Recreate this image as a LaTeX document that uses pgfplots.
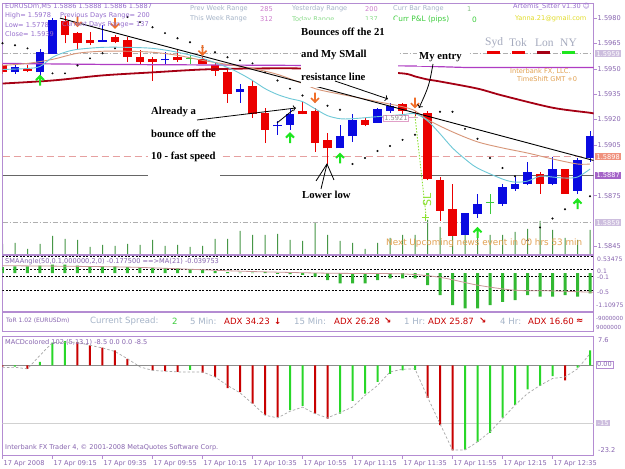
\documentclass[border=0pt]{standalone}
\usepackage{pgfplots}
\pgfplotsset{compat=1.18}
\usepackage{pgfplotstable}
\usepackage{fontspec}
\setmainfont{DejaVu Sans}
\newfontfamily\serifb{Liberation Serif}
\usetikzlibrary{arrows.meta}

\definecolor{cFrame}{RGB}{180,140,210}
\definecolor{cLab}{RGB}{135,100,175}
\definecolor{cHdr}{RGB}{150,110,205}
\definecolor{cBear}{RGB}{235,0,0}
\definecolor{cBull}{RGB}{10,10,225}
\definecolor{cDoji}{RGB}{60,200,60}
\definecolor{cMA}{RGB}{165,0,20}
\definecolor{cPurp}{RGB}{175,60,195}
\definecolor{cTan}{RGB}{215,150,120}
\definecolor{cCyan}{RGB}{110,200,215}
\definecolor{cVol}{RGB}{70,150,70}
\definecolor{cSMA}{RGB}{50,185,50}
\definecolor{cSMAma}{RGB}{200,150,150}
\definecolor{cMG}{RGB}{40,215,40}
\definecolor{cMR}{RGB}{200,0,0}
\definecolor{cGArr}{RGB}{30,230,30}
\definecolor{cOArr}{RGB}{240,110,40}
\definecolor{cPink}{RGB}{230,160,160}
\definecolor{cPinkB}{RGB}{225,160,200}
\definecolor{cGreyL}{RGB}{175,175,175}
\definecolor{cGreyBlue}{RGB}{165,180,200}
\definecolor{cViol}{RGB}{205,125,205}
\definecolor{cOrange}{RGB}{225,160,80}
\definecolor{cYellow}{RGB}{225,220,40}
\definecolor{cSess}{RGB}{165,170,190}
\definecolor{cBoxL}{RGB}{205,190,222}
\definecolor{cBoxS}{RGB}{240,145,125}
\definecolor{cBoxP}{RGB}{165,100,200}
\definecolor{cSL}{RGB}{140,225,50}
\definecolor{cToday}{RGB}{140,220,140}
\definecolor{cPL}{RGB}{60,205,60}

\newcommand\ui{\fontsize{6.6}{7.5}\selectfont}
\newcommand\uis{\fontsize{6.1}{7}\selectfont}
\newcommand\anno{\serifb\bfseries\fontsize{10.7}{12}\selectfont}

\pgfdeclareplotmark{darr}{%
  \pgfsetlinewidth{1.6pt}%
  \pgfpathmoveto{\pgfqpoint{0pt}{5pt}}\pgfpathlineto{\pgfqpoint{0pt}{-4.5pt}}%
  \pgfpathmoveto{\pgfqpoint{-4pt}{-0.5pt}}\pgfpathlineto{\pgfqpoint{0pt}{-4.5pt}}\pgfpathlineto{\pgfqpoint{4pt}{-0.5pt}}%
  \pgfusepathqstroke}
\pgfdeclareplotmark{uarr}{%
  \pgfsetlinewidth{2pt}%
  \pgfpathmoveto{\pgfqpoint{0pt}{-5pt}}\pgfpathlineto{\pgfqpoint{0pt}{4.5pt}}%
  \pgfpathmoveto{\pgfqpoint{-4pt}{0.5pt}}\pgfpathlineto{\pgfqpoint{0pt}{4.5pt}}\pgfpathlineto{\pgfqpoint{4pt}{0.5pt}}%
  \pgfusepathqstroke}

\pgfplotstableread{
i o h l c
0 1.5952 1.5953 1.5947 1.5948
2 1.5950 1.5952 1.5948 1.5949
5 1.5978 1.5981 1.5965 1.5970
6 1.5971 1.5972 1.5962 1.5965
7 1.5967 1.5972 1.5964 1.5965
9 1.5969 1.5970 1.5965 1.5966
10 1.5967 1.5969 1.5954 1.5957
11 1.5957 1.5961 1.5953 1.5954
12 1.5956 1.5957 1.5943 1.5954
14 1.5957 1.5962 1.5954 1.5955
16 1.5956 1.5957 1.5953 1.5953
17 1.5952 1.5954 1.5946 1.5949
18 1.5948 1.5950 1.5930 1.5935
20 1.5940 1.5943 1.5921 1.5923
21 1.5924 1.5927 1.5906 1.5914
24 1.5925 1.5931 1.5923 1.5923
25 1.5925 1.5927 1.5901 1.5906
26 1.5908 1.5912 1.5894 1.5903
29 1.5920 1.5921 1.5916 1.5917
32 1.5929 1.5930 1.5923 1.5925
33 1.5924 1.5925 1.5922 1.5923
34 1.5924 1.5925 1.5884 1.5885
35 1.5884 1.5886 1.5860 1.5866
36 1.5867 1.5882 1.5851 1.5851
43 1.5888 1.5889 1.5876 1.5882
45 1.5891 1.5891 1.5876 1.5876
}\bear

\pgfplotstableread{
i o h l c
1 1.5948 1.5953 1.5947 1.5951
3 1.5948 1.5962 1.5946 1.5960
4 1.5959 1.5980 1.5959 1.5979
8 1.5966 1.5976 1.5966 1.5967
13 1.5955 1.5960 1.5953 1.5956
19 1.5936 1.5941 1.5930 1.5938
22 1.5916 1.5919 1.5911 1.5917
23 1.5917 1.5926 1.5914 1.5923
27 1.5903 1.5917 1.5903 1.5910
28 1.5910 1.5923 1.5907 1.5920
30 1.5918 1.5927 1.5918 1.5926
31 1.5925 1.5930 1.5924 1.5928
37 1.5852 1.5865 1.5852 1.5865
38 1.5864 1.5876 1.5862 1.5870
40 1.5870 1.5882 1.5869 1.5880
41 1.5879 1.5886 1.5878 1.5882
42 1.5882 1.5895 1.5881 1.5889
44 1.5882 1.5898 1.5881 1.5891
46 1.5878 1.5897 1.5876 1.5896
47 1.5897 1.5913 1.5895 1.5910
}\bull

\pgfplotstableread{
i o h l c
15 1.5956 1.5958 1.5953 1.5956
39 1.5871 1.5876 1.5864 1.5871
}\doji

\pgfplotstableread{
i v
0 10
1 11
2 5
3 10
4 18
5 15
6 14
7 7
8 9
9 8
10 10
11 9
12 14
13 8
14 9
15 7
16 8
17 15
18 15
19 23
20 19
21 19
22 20
23 14
24 13
25 31
26 19
27 13
28 11
29 5
30 11
31 16
32 19
33 19
34 34
35 27
36 44
37 31
38 24
39 19
40 19
41 22
42 25
43 33
44 24
45 16
46 14
47 24
}\vol

\pgfplotstableread{
i v
0 0.18
1 0.20
2 0.20
3 0.22
4 0.25
5 0.25
6 0.22
7 0.20
8 0.20
9 0.20
10 0.18
11 0.18
12 0.16
13 0.15
14 0.14
15 0.12
16 0.10
17 0.06
18 0.03
19 0.02
20 0.02
21 0.03
22 -0.02
23 -0.03
24 -0.05
25 -0.10
26 -0.20
27 -0.30
28 -0.30
29 -0.30
30 -0.20
31 -0.15
32 -0.15
33 -0.15
34 -0.35
35 -0.64
36 -0.94
37 -1.03
38 -1.03
39 -0.94
40 -0.84
41 -0.79
42 -0.64
43 -0.69
44 -0.69
45 -0.64
46 -0.69
47 -0.59
}\sma

\pgfplotstableread{
i v
1 -0.3
3 0.9
4 5.9
5 6.3
15 -1.2
23 -11.6
24 -10.5
27 -12.5
28 -9.2
29 -7.3
30 -4.3
31 -2.2
32 -1.3
33 -1.2
37 -21.8
38 -19.8
39 -17.5
40 -13.5
41 -10.2
42 -6.2
43 -5.3
44 -2.8
46 -0.6
47 3.9
}\mgreen

\pgfplotstableread{
i v
0 -0.3
2 -0.9
6 6.0
7 5.2
8 4.6
9 3.9
10 1.7
12 -1.3
13 -1.5
14 -1.7
16 -1.9
17 -3.0
18 -5.9
19 -6.9
20 -9.9
21 -12.9
22 -13.4
25 -12.5
26 -13.8
34 -8.4
35 -15.5
36 -22.0
45 -3.9
}\mred

\pgfplotstableread{
i v
0 -0.6
1 -0.5
2 -0.9
3 2.6
4 5.9
5 6.0
6 6.0
7 5.2
8 4.5
9 3.6
10 1.7
11 -0.4
12 -1.3
13 -1.5
14 -1.7
15 -1.7
16 -1.7
17 -3.0
18 -5.2
19 -7.1
20 -9.9
21 -12.9
22 -13.6
23 -11.9
24 -10.8
25 -12.5
26 -13.6
27 -12.2
28 -10.8
29 -7.8
30 -5.2
31 -1.7
32 -1.0
33 -0.9
34 -8.2
35 -15.1
36 -21.9
37 -21.9
38 -19.8
39 -17.2
40 -13.8
41 -10.3
42 -7.3
43 -5.2
44 -3.4
45 -3.0
46 -0.9
47 3.0
}\sig

\begin{document}
\begin{tikzpicture}
\useasboundingbox (0pt,0pt) rectangle (625pt,469pt);
\fill[white] (0pt,0pt) rectangle (625pt,469pt);

% ---------- volumes (overlay of the price panel)
\begin{axis}[at={(2.5pt,215pt)}, anchor=south west, scale only axis,
  width=591pt, height=251pt, xmin=0, xmax=47.28, ymin=0, ymax=251, hide axis]
\addplot[ybar, bar width=1pt, bar shift=0pt, fill=cVol, draw=none] table[x=i,y=v]{\vol};
\end{axis}

% ---------- price panel
\begin{axis}[at={(2.5pt,215pt)}, anchor=south west, scale only axis,
  width=591pt, height=251pt,
  xmin=0, xmax=47.28, ymin=1.584048, ymax=1.598893,
  axis line style={draw=cFrame, line width=0.8pt},
  xtick=\empty,
  ytick={1.5845,1.5875,1.5905,1.5920,1.5935,1.5950,1.5965,1.5980},
  ytick pos=right, yticklabel pos=right, tick align=outside, major tick length=3pt,
  tick style={draw=cFrame, line width=0.6pt},
  yticklabel style={font=\ui, text=cLab, inner sep=1pt,
    /pgf/number format/.cd, fixed, fixed zerofill, precision=4, assume math mode=true},
  scaled y ticks=false,
  clip mode=individual]
% price levels
\addplot[cGreyL, line width=0.8pt, dash pattern=on 5pt off 2pt on 1pt off 2pt] coordinates {(0,1.5959) (47.28,1.5959)};
\addplot[cGreyL, line width=0.8pt, dash pattern=on 5pt off 2pt on 1pt off 2pt] coordinates {(0,1.5859) (47.28,1.5859)};
\addplot[cPink, line width=0.9pt, dash pattern=on 7pt off 4pt] coordinates {(0,1.5898) (47.28,1.5898)};
\addplot[black!60, line width=0.8pt] coordinates {(0,1.5887) (47.28,1.5887)};
\addplot[cPinkB, line width=0.8pt] coordinates {(30,1.5921) (33.2,1.5921)};
% candles: wicks
\addplot[draw=none, mark=none, forget plot, error bars/.cd, y dir=plus, y explicit, error mark=none,
  error bar style={draw=cBear, line width=1pt, solid}]
  table[x=i, y=l, y error expr=\thisrow{h}-\thisrow{l}] {\bear};
\addplot[draw=none, mark=none, forget plot, error bars/.cd, y dir=plus, y explicit, error mark=none,
  error bar style={draw=cBull, line width=1pt, solid}]
  table[x=i, y=l, y error expr=\thisrow{h}-\thisrow{l}] {\bull};
\addplot[draw=none, mark=none, forget plot, error bars/.cd, y dir=plus, y explicit, error mark=none,
  error bar style={draw=cDoji, line width=1pt, solid}]
  table[x=i, y=l, y error expr=\thisrow{h}-\thisrow{l}] {\doji};
% candles: bodies
\addplot[draw=none, mark=none, forget plot, error bars/.cd, y dir=plus, y explicit, error mark=none,
  error bar style={draw=cBear, line width=8.5pt, solid}]
  table[x=i, y=c, y error expr=\thisrow{o}-\thisrow{c}] {\bear};
\addplot[draw=none, mark=none, forget plot, error bars/.cd, y dir=plus, y explicit, error mark=none,
  error bar style={draw=cBull, line width=8.5pt, solid}]
  table[x=i, y=o, y error expr=\thisrow{c}-\thisrow{o}] {\bull};
\addplot[only marks, mark=-, mark size=4.2pt, mark options={draw=cDoji, line width=1pt}] table[x=i,y=c] {\doji};
% moving averages
\addplot[cMA, line width=1.8pt, smooth, tension=0.5] coordinates {
(0,1.59413) (4,1.59431) (8,1.59461) (12,1.59479) (16,1.59496) (20,1.59502) (24,1.59502)
(28,1.59490) (32,1.59473) (33,1.59455) (34,1.59437) (35,1.59425) (38,1.59383) (40,1.59342)
(44,1.59270) (47,1.59240) (47.28,1.59235)};
\addplot[cPurp, line width=1.2pt] coordinates {
(0,1.59532) (8,1.59526) (24,1.59520) (33,1.59517) (37,1.59508) (47.28,1.59508)};
\addplot[cTan, line width=0.9pt, smooth, tension=0.5] coordinates {
(0,1.59520) (2,1.59532) (4,1.59556) (6,1.59592) (8,1.59604) (10,1.59604) (12,1.59598)
(14,1.59580) (16,1.59550) (18,1.59526) (20,1.59502) (22,1.59467) (24,1.59413) (25,1.59383)
(26,1.59365) (28,1.59336) (30,1.59306) (32,1.59276) (33,1.59252) (34,1.59199) (36,1.59127)
(38,1.59068) (40,1.59032) (42,1.59002) (44,1.58967) (46,1.58937) (47,1.58937)};
\addplot[cCyan, line width=0.9pt, smooth, tension=0.5] coordinates {
(0,1.59496) (2,1.59502) (3,1.59514) (4,1.59568) (5,1.59598) (6,1.59615) (8,1.59627)
(10,1.59627) (12,1.59621) (14,1.59598) (16,1.59562) (18,1.59508) (19,1.59473) (20,1.59431)
(21,1.59383) (22,1.59348) (23,1.59324) (24,1.59306) (25,1.59264) (26,1.59223) (27,1.59205)
(28,1.59205) (30,1.59217) (32,1.59229) (33,1.59235) (34,1.59193) (35,1.59116) (36,1.59032)
(37,1.58967) (38,1.58913) (40,1.58848) (41,1.58830) (42,1.58836) (43,1.58865) (44,1.58860)
(45,1.58854) (46,1.58860) (47,1.58907)};
% trend line
\addplot[black, line width=0.9pt] coordinates {(4.6,1.5980) (47.28,1.58958)};
% stop-loss line
\addplot[cSL, line width=0.9pt, dash pattern=on 1.5pt off 1.5pt] coordinates {(33.0,1.5922) (33.9,1.5862)};
\addplot[only marks, mark=+, mark size=3.5pt, mark options={draw=cSL, line width=1pt}] coordinates {(33.8,1.5862)};
% parabolic SAR dots
\addplot[only marks, mark=*, mark size=0.8pt, mark options={fill=black!75, draw=none}] coordinates {
(0,1.59651) (1,1.59639) (2,1.59621) (4,1.59473) (5,1.59473) (6,1.59520) (7,1.59562) (8,1.59592)
(9,1.59621) (10,1.59806) (11,1.59776) (12,1.59746) (13,1.59711) (14,1.59681) (15,1.59657)
(16,1.59627) (17,1.59598) (18,1.59568) (19,1.59550) (20,1.59532) (21,1.59479) (22,1.59431)
(23,1.59383) (24,1.59342) (25,1.59306) (26,1.59282) (27,1.59258) (28,1.58937) (29,1.58973)
(30,1.59014) (31,1.59044) (32,1.59080) (33,1.59110) (35,1.59246) (36,1.59246) (37,1.59145)
(38,1.59086) (39,1.58973) (40,1.58913) (41,1.58865) (42,1.58485) (43,1.58562) (44,1.58615)
(45,1.58669) (46,1.58710) (47,1.58746)};
% signal arrows
\addplot[only marks, mark=uarr, mark options={draw=cGArr}] coordinates {
(3,1.5943) (23,1.5909) (27,1.5897) (38,1.5853) (46,1.5870)};
\addplot[only marks, mark=darr, mark options={draw=cOArr}] coordinates {
(6,1.5978) (9,1.5977) (16,1.5961) (25,1.5933) (33,1.5930)};
% price boxes
\node[fill=cBoxL, text=white, font=\ui, inner xsep=1.5pt, inner ysep=1pt, anchor=west, xshift=1.5pt] at (axis cs:47.28,1.5959) {1.5959};
\node[fill=cBoxS, text=white, font=\ui, inner xsep=1.5pt, inner ysep=1pt, anchor=west, xshift=1.5pt] at (axis cs:47.28,1.5898) {1.5898};
\node[fill=cBoxP, text=white, font=\ui, inner xsep=1.5pt, inner ysep=1pt, anchor=west, xshift=1.5pt] at (axis cs:47.28,1.5887) {1.5887};
\node[fill=cBoxL, text=white, font=\ui, inner xsep=1.5pt, inner ysep=1pt, anchor=west, xshift=1.5pt] at (axis cs:47.28,1.5859) {1.5859};
\end{axis}

% ---------- SMAAngle panel
\begin{axis}[at={(2.5pt,158pt)}, anchor=south west, scale only axis,
  width=591pt, height=56pt, xmin=0, xmax=47.28, ymin=-1.10975, ymax=0.53475,
  axis line style={draw=cFrame, line width=0.8pt}, xtick=\empty, ytick=\empty,
  clip mode=individual]
\addplot[black, line width=0.7pt, dash pattern=on 2pt off 1.5pt] coordinates {(0,0.5) (47.28,0.5)};
\addplot[black, line width=0.7pt, dash pattern=on 2pt off 1.5pt] coordinates {(0,0.1) (47.28,0.1)};
\addplot[black, line width=0.7pt, dash pattern=on 2pt off 1.5pt] coordinates {(0,-0.1) (47.28,-0.1)};
\addplot[black, line width=0.7pt, dash pattern=on 2pt off 1.5pt] coordinates {(0,-0.5) (47.28,-0.5)};
\addplot[ybar, bar width=3pt, bar shift=0pt, fill=cSMA, draw=none] table[x=i,y=v]{\sma};
\addplot[cSMAma, line width=0.8pt, smooth] coordinates {
(0,0.22) (10,0.18) (19,0.06) (26,0.0) (32,-0.02) (35,-0.12) (38,-0.35) (41,-0.5) (44,-0.52) (47.28,-0.56)};
\end{axis}

% ---------- MACD panel
\begin{axis}[at={(2.5pt,14pt)}, anchor=south west, scale only axis,
  width=591pt, height=119pt, xmin=0, xmax=47.28, ymin=-23.2, ymax=7.6,
  axis line style={draw=cFrame, line width=0.8pt}, ytick=\empty,
  xtick={0,4,8,12,16,20,24,28,32,36,40,44},
  xticklabels={17 Apr 2008,17 Apr 09:15,17 Apr 09:35,17 Apr 09:55,17 Apr 10:15,17 Apr 10:35,17 Apr 10:55,17 Apr 11:15,17 Apr 11:35,17 Apr 11:55,17 Apr 12:15,17 Apr 12:35},
  xtick pos=bottom, tick align=outside, major tick length=4pt,
  tick style={draw=cFrame, line width=0.6pt},
  xticklabel style={font=\ui, text=cLab, anchor=north west, inner xsep=1pt, inner ysep=1pt},
  clip mode=individual]
\addplot[black!45, line width=0.7pt] coordinates {(0,0) (47.28,0)};
\addplot[black!18, line width=1.5pt] coordinates {(0,-15) (47.28,-15)};
\addplot[ybar, bar width=2pt, bar shift=0pt, fill=cMG, draw=none] table[x=i,y=v]{\mgreen};
\addplot[ybar, bar width=2pt, bar shift=0pt, fill=cMR, draw=none] table[x=i,y=v]{\mred};
\addplot[black!35, line width=0.7pt, dash pattern=on 2.5pt off 2pt] table[x=i,y=v]{\sig};
\end{axis}

% ---------- texts and objects (image coordinates)
\begin{scope}[x=1pt, y=1pt, shift={(0pt,469pt)}, yscale=-1]
% ToR strip frame
\draw[cFrame, line width=0.8pt] (2.5,312) rectangle (593.5,331);
% header left
\begin{scope}[every node/.style={anchor=west, inner sep=0pt, font=\ui}]
\node[text=cHdr] at (5,6) {EURUSDm,M5 1.5886 1.5888 1.5886 1.5887};
\node[text=cHdr] at (5,16) {High= 1.5978};
\node[text=cHdr] at (60,16) {Previous Days Range= 200};
\node[text=cHdr] at (5,25) {Low= 1.5778};
\node[text=cHdr] at (62,25) {Current Days Range= 137};
\node[text=cHdr] at (5,34) {Close= 1.5939};
\node[text=cGreyBlue] at (190,9) {Prev Week Range};
\node[text=cViol] at (260,9) {285};
\node[text=cGreyBlue] at (190,19) {This Week Range};
\node[text=cViol] at (260,19) {312};
\node[text=cGreyBlue] at (292,9) {Yesterday Range};
\node[text=cViol] at (365,9) {200};
\node[text=cToday] at (292,19.5) {Today Range};
\node[text=cToday] at (365,19.5) {137};
\node[text=cGreyBlue] at (393,9) {Curr Bar Range};
\node[text=cToday!70!gray] at (467,9) {1};
\node[text=cPL, font=\fontsize{7.4}{8}\selectfont] at (393,19.5) {Curr P\&L (pips)};
\node[text=cPL, font=\fontsize{7.4}{8}\selectfont] at (472,19.5) {0};
\node[text=cHdr] at (513,7) {Artemis\_Sitter v1.30 ☺};
\node[text=cYellow] at (515,19) {Yanna.21@gmail.com};
\node[text=cOrange] at (510,71) {Interbank FX, LLC.};
\node[text=cOrange] at (517,79) {TimeShift GMT +0};
\node[text=cOrange, font=\fontsize{8.8}{10}\selectfont] at (386,243) {Next Upcoming news event in 00 hrs 53 min};
% sub-window labels
\node[text=cLab] at (5,262) {SMAAngle(50,0.1,000000,2,0) -0.177500 ==>MA(21) -0.039753};
\node[text=cLab] at (5,342) {MACDcolored 102 (5,13,1) -8.5 0.0 0.0 -8.5};
\node[text=cLab] at (5,448) {Interbank FX Trader 4, © 2001-2008 MetaQuotes Software Corp.};
% right labels of sub-windows
\node[text=cLab, font=\uis] at (597,259) {0.53475};
\node[text=cLab, font=\uis] at (597,271) {0.1};
\node[text=cLab, font=\uis] at (597,277.5) {-0.1};
\node[text=cLab, font=\uis] at (597,292) {-0.5};
\node[text=cLab, font=\uis] at (596,305) {-1.10975};
\node[text=cLab, font=\fontsize{5.6}{6}\selectfont] at (596,318) {-9000000};
\node[text=cLab, font=\fontsize{5.6}{6}\selectfont] at (596,327) {9000000};
\node[text=cLab] at (598,340) {7.6};
\node[text=cLab] at (598,450) {-23.2};
% ToR strip texts
\node[text=cLab, font=\fontsize{6}{7}\selectfont] at (6,321) {ToR 1.02 (EURUSDm)};
\node[text=cGreyBlue, font=\fontsize{8.6}{9}\selectfont] at (90,321) {Current Spread:};
\node[text=cPL, font=\fontsize{8.6}{9}\selectfont] at (172,321) {2};
\node[text=cGreyBlue, font=\fontsize{8.6}{9}\selectfont] at (190,321) {5 Min:};
\node[text=cMR, font=\fontsize{8.6}{9}\selectfont] at (224,321) {ADX 34.23};
\node[text=cMR, font=\bfseries\fontsize{8.6}{9}\selectfont] at (274,321) {↓};
\node[text=cGreyBlue, font=\fontsize{8.6}{9}\selectfont] at (294,321) {15 Min:};
\node[text=cMR, font=\fontsize{8.6}{9}\selectfont] at (334,321) {ADX 26.28};
\node[text=cMR, font=\bfseries\fontsize{8.6}{9}\selectfont] at (384,321) {↘};
\node[text=cGreyBlue, font=\fontsize{8.6}{9}\selectfont] at (404,321) {1 Hr:};
\node[text=cMR, font=\fontsize{8.6}{9}\selectfont] at (428,321) {ADX 25.87};
\node[text=cMR, font=\bfseries\fontsize{8.6}{9}\selectfont] at (479,321) {↘};
\node[text=cGreyBlue, font=\fontsize{8.6}{9}\selectfont] at (500,321) {4 Hr:};
\node[text=cMR, font=\fontsize{8.6}{9}\selectfont] at (528,321) {ADX 16.60};
\node[text=cMR, font=\bfseries\fontsize{8.6}{9}\selectfont] at (576,321) {≈};
% sessions
\node[text=cSess, font=\serifb\fontsize{11.5}{12}\selectfont] at (485,43) {Syd};
\node[text=cSess, font=\serifb\fontsize{11.5}{12}\selectfont] at (509,43) {Tok};
\node[text=cSess, font=\serifb\fontsize{11.5}{12}\selectfont] at (535,43) {Lon};
\node[text=cSess, font=\serifb\fontsize{11.5}{12}\selectfont] at (560,43) {NY};
\end{scope}
\fill[cBear] (487,51.5) rectangle (500,54.5);
\fill[cBear] (512,51.5) rectangle (525,54.5);
\fill[cMA] (537,51.5) rectangle (550,54.5);
\fill[cGArr] (562,51.5) rectangle (575,54.5);
% MACD boxes
\node[draw=cFrame, fill=white, text=cLab, font=\ui, inner xsep=1pt, inner ysep=0.8pt, anchor=west] at (596,364.5) {0.00};
\node[fill=cBoxL, text=white, font=\ui, inner xsep=1.5pt, inner ysep=0.8pt, anchor=west] at (596,423) {-15};
% order box
\node[draw=cPinkB, fill=white, text=black!45, font=\ui, inner xsep=1.2pt, inner ysep=0.8pt, anchor=west] at (383,118) {1.5921};
\node[text=cSL, rotate=90, font=\fontsize{11}{12}\selectfont, inner sep=0pt] at (427,200) {SL};
% annotation boxes (opaque text areas)
\fill[white] (301,20.5) rectangle (398,87);
\fill[white] (417,47) rectangle (469,66);
\fill[white] (148,101) rectangle (220,176);
\fill[white] (300,187) rectangle (353,203);
\begin{scope}[every node/.style={anchor=west, inner sep=0pt, font=\anno}]
\node at (301,32) {Bounces off the 21};
\node at (301,55) {and My SMall};
\node at (301,77) {resistance line};
\node at (419,57) {My entry};
\node at (151,112) {Already a};
\node at (151,134) {bounce off the};
\node at (151,157) {10 - fast speed};
\node at (302,195) {Lower low};
\end{scope}
% annotation arrows
\draw[line width=0.8pt, -{To[length=3pt,width=6pt]}] (335,81) -- (388,99);
\draw[line width=0.8pt, -{To[length=3pt,width=6pt]}] (433,64) .. controls (429,86) .. (419,108);
\draw[line width=0.8pt, -{To[length=3pt,width=6pt]}] (197,120) -- (296,108);
\draw[line width=0.8pt] (277,123) -- (293,110);
\draw[line width=0.8pt] (321,189) -- (327,164);
\draw[line width=0.8pt] (316,181) -- (327,164) -- (334,180);
\end{scope}
\end{tikzpicture}
\end{document}
